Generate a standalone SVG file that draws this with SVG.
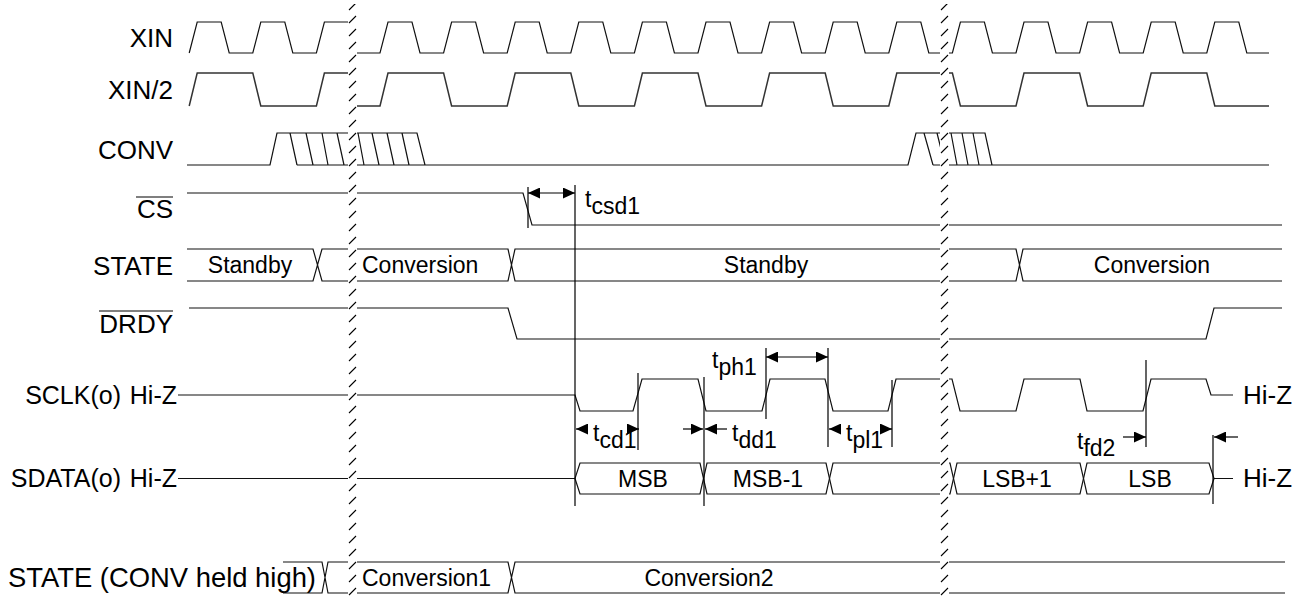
<svg xmlns="http://www.w3.org/2000/svg" width="1310" height="600" viewBox="0 0 1310 600">
<defs>
<style>
.s{fill:none;stroke:#111;stroke-width:1.2}
.x2{stroke:#333;stroke-width:1.5}
.lbl{font-family:"Liberation Sans",Arial,sans-serif;font-size:26px;fill:#000}
.lb2{font-family:"Liberation Sans",Arial,sans-serif;font-size:25px;fill:#000}
.txt{font-family:"Liberation Sans",Arial,sans-serif;font-size:23px;fill:#000}
.m{text-anchor:middle}
.e{text-anchor:end}
.dim{fill:none;stroke:#000;stroke-width:1.2}
.arr{fill:none;stroke:#000;stroke-width:1.2;marker-end:url(#ah)}
.arr2{fill:none;stroke:#000;stroke-width:1.2;marker-start:url(#ah);marker-end:url(#ah)}
</style>
<marker id="ah" viewBox="0 0 12 11" refX="12" refY="5.5" markerWidth="12" markerHeight="11" markerUnits="userSpaceOnUse" orient="auto-start-reverse"><path d="M0 0L12 5.5L0 11z" fill="#000"/></marker>
<pattern id="hp" width="9" height="13" patternUnits="userSpaceOnUse"><path d="M1 10L8 3" stroke="#000" stroke-width="1.1"/></pattern>
<g id="brk"><rect x="0" y="4" width="9" height="596" fill="#fff"/><rect x="0" y="4" width="9" height="596" fill="url(#hp)"/></g>
</defs>
<rect width="1310" height="600" fill="#fff"/>

<g id="labels">
<text class="lbl e" x="173" y="47">XIN</text>
<text class="lbl e" x="173" y="99">XIN/2</text>
<text class="lbl e" x="173" y="159">CONV</text>
<text class="lbl e" x="173" y="218">CS</text>
<path class="dim" d="M136 197H173"/>
<text class="lbl e" x="173" y="275">STATE</text>
<text class="lbl e" x="173" y="333">DRDY</text>
<path class="dim" d="M99 311H173"/>
<text class="lb2 e" x="121" y="404">SCLK(o)</text>
<text class="lb2 e" x="177" y="404">Hi-Z</text>
<text class="lb2 e" x="121" y="487">SDATA(o)</text>
<text class="lb2 e" x="177" y="487">Hi-Z</text>
<text class="lbl" x="1243" y="404">Hi-Z</text>
<text class="lbl" x="1243" y="487">Hi-Z</text>
<text class="lbl" x="8" y="587" style="font-size:27.4px">STATE (CONV held high)</text>
</g>

<g id="sig-xin">
<path class="s" d="M189.2 53L197.2 22L221.2 22L229.2 53L252.8 53L260.8 22L284.8 22L292.8 53L316.4 53L324.4 22L348.4 22L356.4 53L380 53L388 22L412 22L420 53L443.6 53L451.6 22L475.6 22L483.6 53L507.2 53L515.2 22L539.2 22L547.2 53L570.8 53L578.8 22L602.8 22L610.8 53L634.4 53L642.4 22L666.4 22L674.4 53L698 53L706 22L730 22L738 53L761.6 53L769.6 22L793.6 22L801.6 53L825.2 53L833.2 22L857.2 22L865.2 53L888.8 53L896.8 22L920.8 22L928.8 53L952.4 53L960.4 22L984.4 22L992.4 53L1016 53L1024 22L1048 22L1056 53L1079.6 53L1087.6 22L1111.6 22L1119.6 53L1143.2 53L1151.2 22L1175.2 22L1183.2 53L1206.8 53L1214.8 22L1238.8 22L1246.8 53L1269 53"/>
</g>

<g id="sig-xin2">
<path class="s x2" d="M189.2 106L197.2 73L252.8 73L260.8 106L316.4 106L324.4 73L350 73"/>
<path class="s x2" d="M356 106L380 106L388 73L443.6 73L451.6 106L507.2 106L515.2 73L570.8 73L578.8 106L634.4 106L642.4 73L698 73L706 106L761.6 106L769.6 73L825.2 73L833.2 106L888.8 106L896.8 73L952.4 73L960.4 106L1016 106L1024 73L1079.6 73L1087.6 106L1143.2 106L1151.2 73L1206.8 73L1214.8 106L1269 106"/>
</g>

<g id="sig-conv">
<path class="s" d="M187 165L270 165L277 133L350 133M297 165L350 165M290 133L297 165M306 133L313 165M322 133L328 165M337 133L344 165"/>
<path class="s" d="M356 133L417 133L425 165M356 165L908 165L916 133L942 133M358 133L364 165M372 133L379 165M387 133L394 165M402 133L409 165M924 133L933 165M937 133L945 165M933 165L942 165"/>
<path class="s" d="M948 133L985 133L992 165M948 165L1269 165M951 133L957 165M962 133L968 165M973 133L979 165"/>
</g>

<g id="sig-cs">
<path class="s" d="M187 193L350 193M356 193L523 193L532 225L1282 225"/>
</g>

<g id="sig-state">
<path class="s" d="M187 249L313 249L322 281L350 281M187 281L313 281L322 249L350 249"/>
<path class="s" d="M356 249L508 249L515 281L1016 281L1023 249L1282 249M356 281L508 281L515 249L1016 249L1023 281L1282 281"/>
<text class="txt m" x="250" y="273">Standby</text>
<text class="txt" x="362" y="273">Conversion</text>
<text class="txt m" x="766" y="273">Standby</text>
<text class="txt m" x="1152" y="273">Conversion</text>
</g>

<g id="sig-drdy">
<path class="s" d="M189 308L350 308M356 308L508 308L517 339L1206 339L1214 308L1282 308"/>
</g>

<g id="sig-sclk">
<path class="s" d="M178 395L350 395M356 395L575 395L580 411L633 411L642 379L698 379L706 411L762 411L770 379L825 379L833 411L888 411L896 379L945 379L952 379L960 411L1016 411L1024 379L1080 379L1087 411L1143 411L1151 379L1206 379L1211 395L1233 395"/>
</g>

<g id="sig-sdata">
<path class="s" d="M178 478.5L350 478.5M356 478.5L575 478.5L580 463L700 463L707 494L826 494L833 463L950 463L957 494L1080 494L1087 463L1209 463L1214 478.5L1233 478.5"/>
<path class="s" d="M575 478.5L580 494L700 494L707 463L826 463L833 494L950 494L957 463L1080 463L1087 494L1209 494L1214 478.5"/>
<text class="txt m" x="643" y="487">MSB</text>
<text class="txt m" x="768" y="487">MSB-1</text>
<text class="txt m" x="1017" y="487">LSB+1</text>
<text class="txt m" x="1150" y="487">LSB</text>
</g>

<g id="sig-state2">
<path class="s" d="M283 562L322 562L328 593L350 593M283 593L322 593L328 562L350 562"/>
<path class="s" d="M356 562L508 562L515 593L1285 593M356 593L508 593L515 562L1285 562"/>
<text class="txt" x="362" y="586">Conversion1</text>
<text class="txt m" x="709" y="586">Conversion2</text>
</g>

<g id="breaks">
<use href="#brk" x="348"/>
<use href="#brk" x="940"/>
</g>

<g id="connectors">
<path class="dim" d="M528 187V228M575 185V506"/>
<path class="arr2" d="M528 193H575"/>
<path class="dim" d="M766 348V419M828 348V447M892 380V447"/>
<path class="arr2" d="M766 357H828"/>
<path class="arr" d="M841 429H829"/>
<path class="arr" d="M880 429H892"/>
<path class="dim" d="M638 373V450"/>
<path class="arr" d="M588 429H576"/>
<path class="arr" d="M627 429H639"/>
<path class="dim" d="M704 377V506"/>
<path class="arr" d="M683 429H703"/>
<path class="arr" d="M727 429H705"/>
<path class="dim" d="M1146 360V447M1213 435V504"/>
<path class="arr" d="M1123 437H1146"/>
<path class="arr" d="M1238 437H1214"/>
<text class="txt" x="585" y="207">t<tspan dy="7">csd1</tspan></text>
<text class="txt" x="712" y="368">t<tspan dy="7">ph1</tspan></text>
<text class="txt" x="846" y="441">t<tspan dy="7">pl1</tspan></text>
<text class="txt" x="593" y="441">t<tspan dy="7">cd1</tspan></text>
<text class="txt" x="732" y="441">t<tspan dy="7">dd1</tspan></text>
<text class="txt" x="1077" y="449">t<tspan dy="7">fd2</tspan></text>
</g>
</svg>
